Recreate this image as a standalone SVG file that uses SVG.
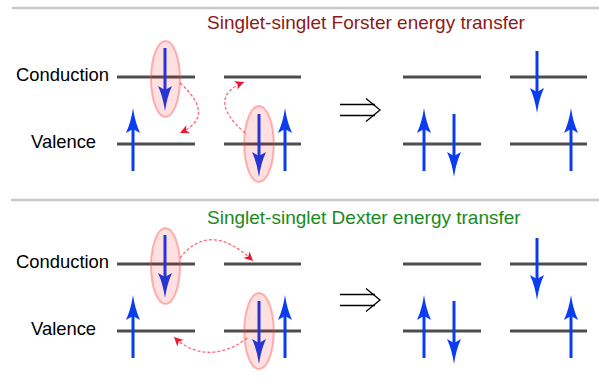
<svg xmlns="http://www.w3.org/2000/svg" xmlns:xlink="http://www.w3.org/1999/xlink" width="599" height="381" viewBox="0 0 599 381">
<style>
.sep{stroke:#c8c8c8;stroke-width:2.5;fill:none}
.lvl{stroke:#4d4d4d;stroke-width:3;fill:none}
.lbl{font-family:"Liberation Sans",Arial,sans-serif;font-size:18.4px;fill:#000}
.ttl{font-family:"Liberation Sans",Arial,sans-serif;font-size:19px}
.shaft{stroke:#0a3df0;stroke-width:3;fill:none}
.head{fill:#0a3df0}
.ell{fill:#ff0000;fill-opacity:0.12;stroke:#ff4040;stroke-opacity:0.38;stroke-width:2}
.dash{stroke:#ff3344;stroke-opacity:0.75;stroke-width:1.3;stroke-dasharray:3,2;fill:none}
.imp{stroke:#000;stroke-width:1.3;fill:none}
</style>
<defs>
<path id="hu" d="M0,0 Q-2,14 -7,25 L0,21 L7,25 Q2,14 0,0 Z" class="head"/>
<path id="hd" d="M0,0 Q-2,-14 -7,-25 L0,-21 L7,-25 Q2,-14 0,0 Z" class="head"/>
<marker id="rh" markerUnits="userSpaceOnUse" markerWidth="12" markerHeight="12" viewBox="-10 -6 12 12" refX="0" refY="0" orient="auto">
<path d="M0,0 L-9,-4.5 L-6.5,0 L-9,4.5 Z" fill="#ee1530"/>
</marker>
</defs>

<g id="forster">
<line class="sep" x1="12" y1="8" x2="599" y2="8"/>
<text class="ttl" x="207" y="29" fill="#8b1a1a">Singlet-singlet Forster energy transfer</text>
<text class="lbl" x="16" y="81">Conduction</text>
<text class="lbl" x="31" y="148">Valence</text>
<g id="f-levels">
<line class="lvl" x1="117" y1="77" x2="195" y2="77"/>
<line class="lvl" x1="224" y1="77" x2="301" y2="77"/>
<line class="lvl" x1="403" y1="77" x2="481" y2="77"/>
<line class="lvl" x1="510" y1="77" x2="587" y2="77"/>
<line class="lvl" x1="117" y1="144" x2="195" y2="144"/>
<line class="lvl" x1="224" y1="144" x2="301" y2="144"/>
<line class="lvl" x1="403" y1="144" x2="481" y2="144"/>
<line class="lvl" x1="510" y1="144" x2="587" y2="144"/>
</g>
<g id="f-spins">
<line class="shaft" x1="133" y1="171" x2="133" y2="128"/><use xlink:href="#hu" x="133" y="108"/>
<line class="shaft" x1="165" y1="48" x2="165" y2="91"/><use xlink:href="#hd" x="165" y="111"/>
<line class="shaft" x1="259" y1="114" x2="259" y2="157"/><use xlink:href="#hd" x="259" y="177"/>
<line class="shaft" x1="285" y1="171" x2="285" y2="128"/><use xlink:href="#hu" x="285" y="108"/>
<line class="shaft" x1="424" y1="171" x2="424" y2="128"/><use xlink:href="#hu" x="424" y="108"/>
<line class="shaft" x1="454" y1="114" x2="454" y2="157"/><use xlink:href="#hd" x="454" y="177"/>
<line class="shaft" x1="537" y1="51" x2="537" y2="93"/><use xlink:href="#hd" x="537" y="113"/>
<line class="shaft" x1="571" y1="171" x2="571" y2="128"/><use xlink:href="#hu" x="571" y="108"/>
</g>
<ellipse class="ell" cx="165.5" cy="79" rx="14.5" ry="38"/>
<ellipse class="ell" cx="259" cy="144" rx="14.8" ry="38"/>
<g id="f-implies">
<line class="imp" x1="340" y1="104.5" x2="375" y2="104.5"/>
<line class="imp" x1="340" y1="115.5" x2="375" y2="115.5"/>
<polyline class="imp" points="366,98.5 380,110 366,121.5"/>
</g>
</g>

<g id="dexter">
<line class="sep" x1="11" y1="200" x2="599" y2="200"/>
<text class="ttl" x="207" y="224" fill="#1a8a1a">Singlet-singlet Dexter energy transfer</text>
<text class="lbl" x="16" y="268">Conduction</text>
<text class="lbl" x="31" y="335">Valence</text>
<g id="d-levels">
<line class="lvl" x1="117" y1="264" x2="195" y2="264"/>
<line class="lvl" x1="224" y1="264" x2="301" y2="264"/>
<line class="lvl" x1="403" y1="264" x2="481" y2="264"/>
<line class="lvl" x1="510" y1="264" x2="587" y2="264"/>
<line class="lvl" x1="117" y1="331" x2="195" y2="331"/>
<line class="lvl" x1="224" y1="331" x2="301" y2="331"/>
<line class="lvl" x1="403" y1="331" x2="481" y2="331"/>
<line class="lvl" x1="510" y1="331" x2="587" y2="331"/>
</g>
<g id="d-spins">
<line class="shaft" x1="133" y1="358" x2="133" y2="315"/><use xlink:href="#hu" x="133" y="295"/>
<line class="shaft" x1="165" y1="235" x2="165" y2="278"/><use xlink:href="#hd" x="165" y="298"/>
<line class="shaft" x1="259" y1="301" x2="259" y2="344"/><use xlink:href="#hd" x="259" y="364"/>
<line class="shaft" x1="285" y1="358" x2="285" y2="315"/><use xlink:href="#hu" x="285" y="295"/>
<line class="shaft" x1="424" y1="358" x2="424" y2="315"/><use xlink:href="#hu" x="424" y="295"/>
<line class="shaft" x1="454" y1="301" x2="454" y2="344"/><use xlink:href="#hd" x="454" y="364"/>
<line class="shaft" x1="537" y1="238" x2="537" y2="280"/><use xlink:href="#hd" x="537" y="300"/>
<line class="shaft" x1="571" y1="358" x2="571" y2="315"/><use xlink:href="#hu" x="571" y="295"/>
</g>
<ellipse class="ell" cx="165.5" cy="266" rx="14.5" ry="38"/>
<ellipse class="ell" cx="259" cy="331" rx="14.8" ry="38"/>
<g id="d-implies">
<line class="imp" x1="340" y1="294.5" x2="375" y2="294.5"/>
<line class="imp" x1="340" y1="305.5" x2="375" y2="305.5"/>
<polyline class="imp" points="366,288.5 380,300 366,311.5"/>
</g>
</g>

<g id="connectors">
<path class="dash" d="M180,83 Q217,116 180,133" marker-end="url(#rh)"/>
<path class="dash" d="M245,133 Q205,98 244,82" marker-end="url(#rh)"/>
<path class="dash" d="M180,258 Q210,220 253,261" marker-end="url(#rh)"/>
<path class="dash" d="M247,338 C230,352 200,362 174,337" marker-end="url(#rh)"/>
</g>
</svg>
